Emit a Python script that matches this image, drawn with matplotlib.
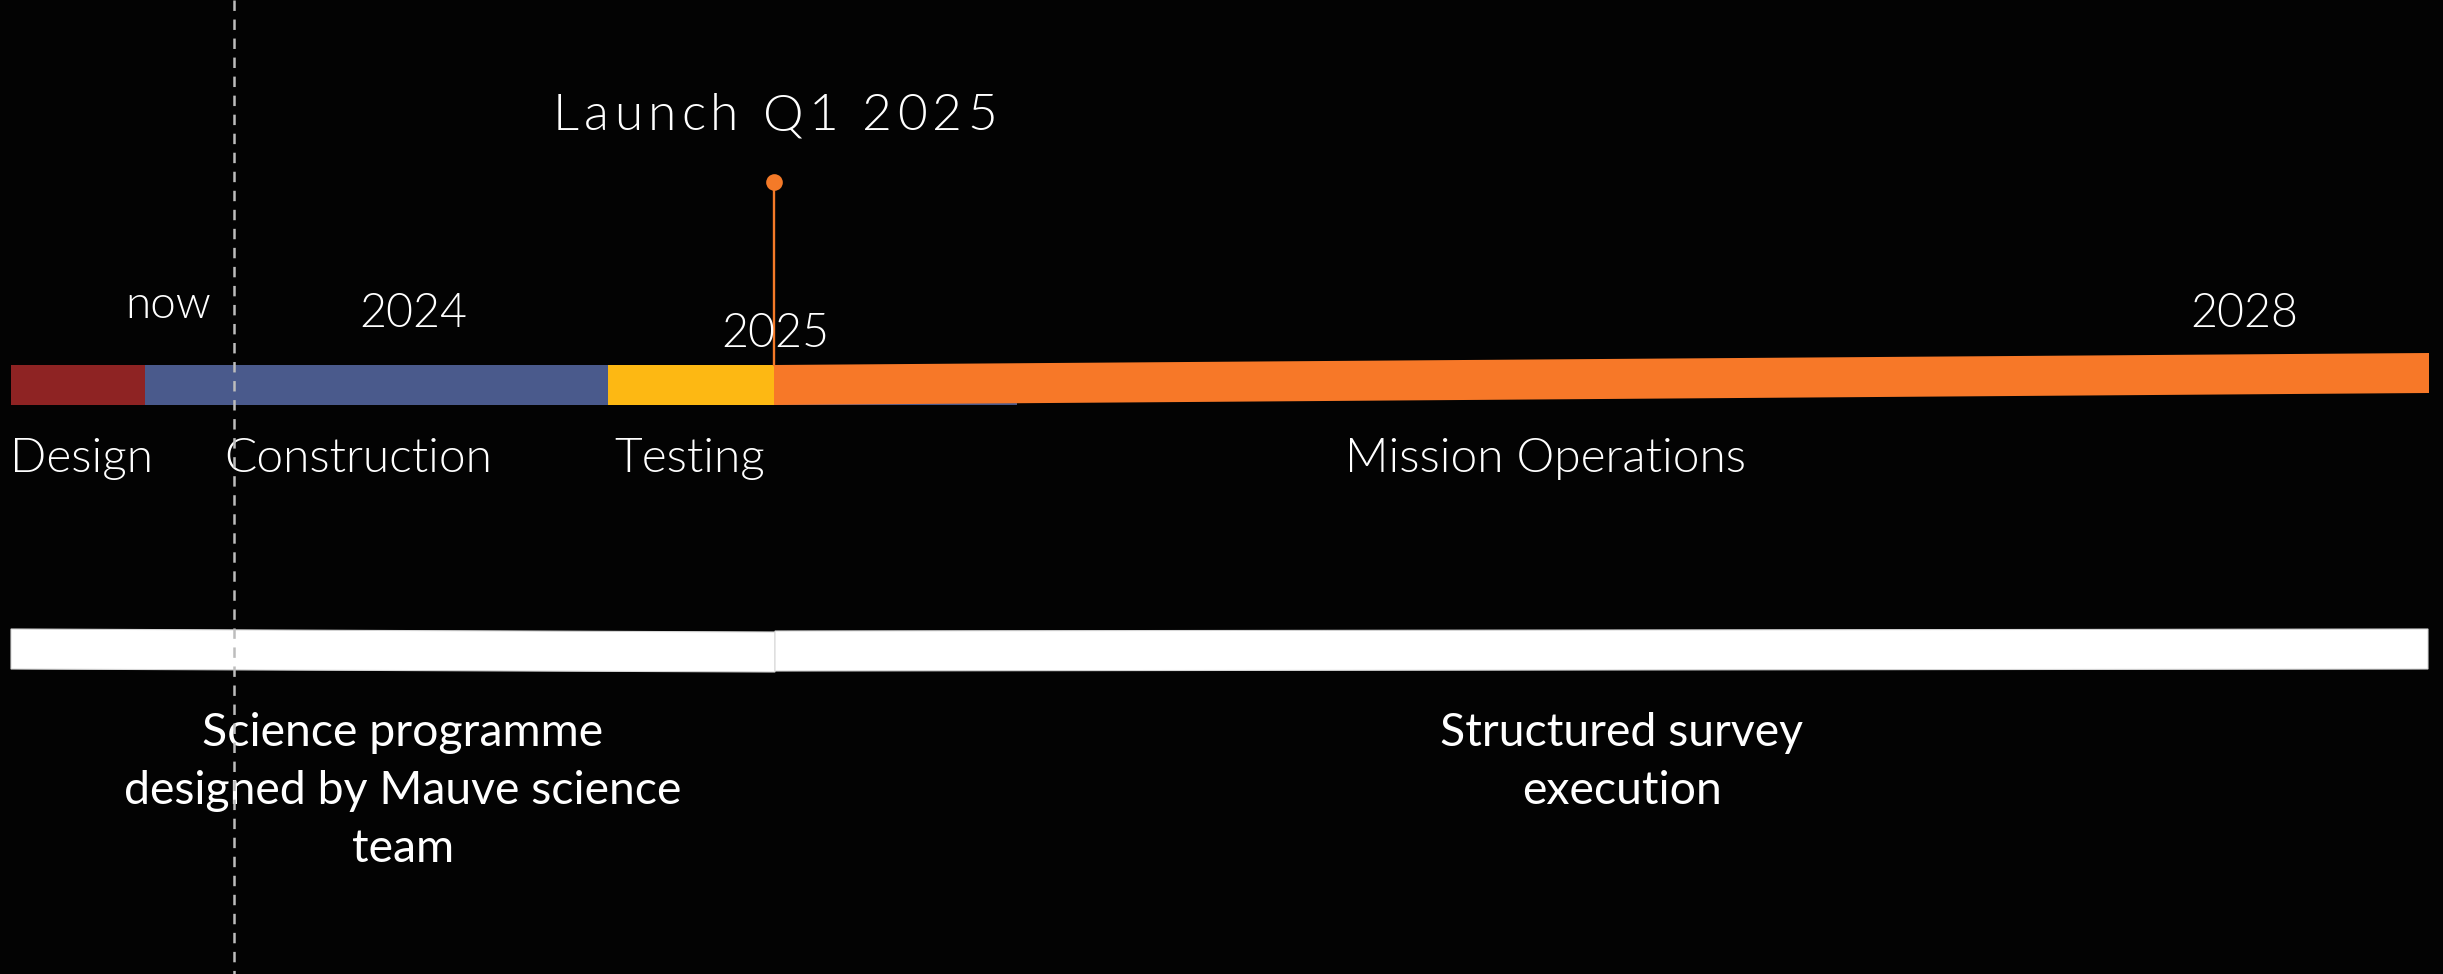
import matplotlib

matplotlib.use("Agg")
import matplotlib.pyplot as plt
from matplotlib.patches import Polygon

W, H = 2443, 974
BG = "#030303"
FONT = "Lato"
LIGHT = 300

# phase bars along the upper row, in timeline units (drawn back to front)
PHASES = ["Construction", "Design", "Testing", "Mission Operations"]
PHASE_START = [145, 11, 608, 774]
PHASE_END = [1017, 145, 774, 2429]
PHASE_RISE = [0, 0, 0, 12]
PHASE_COLORS = ["#4A5A8C", "#8E2323", "#FDB813", "#F77828"]

LABELS = ["Design", "Construction", "Testing", "Mission Operations"]
LABEL_X = [10, 224, 614, 1345]

YEARS = ["2024", "2025", "2028"]
YEAR_X = [413, 775, 2244]
YEAR_Y = [327, 347, 327]

NOW_X = 234
LAUNCH_X = 774
LAUNCH_LABEL = "Launch Q1 2025"

# lower row: science activity before / after launch
TRACKS = [["Science programme", "designed by Mauve science", "team"],
          ["Structured survey", "execution"]]
TRACK_START = [11, 775]
TRACK_END = [775, 2428]
TRACK_TOP = [629, 631]
TRACK_RISE = [-3, 2]
TRACK_TEXT_X = [403, 1622]

BAR_TOP, BAR_H = 365, 40
TRACK_H = 40


def slab(x0, x1, top, h, rise, **kw):
    pts = [(x0, top), (x1, top - rise), (x1, top - rise + h), (x0, top + h)]
    return Polygon(pts, closed=True, **kw)


def tracked_text(ax, renderer, s, xc, y, total_w, **kw):
    """Draw s centred on xc with extra letter spacing so it spans total_w."""
    def width(t):
        if not t:
            return 0.0
        probe = ax.text(0, 0, t + ".", **kw)
        dot = ax.text(0, 0, ".", **kw)
        w = probe.get_window_extent(renderer).width - dot.get_window_extent(renderer).width
        probe.remove(); dot.remove()
        return w
    natural = width(s)
    track = (total_w - natural) / (len(s) - 1)
    x0 = xc - total_w / 2
    for i, ch in enumerate(s):
        if ch != " ":
            ax.text(x0 + width(s[:i]) + i * track, y, ch, ha="left", **kw)


plt.rcParams["lines.scale_dashes"] = False
fig = plt.figure(figsize=(W / 100, H / 100), dpi=100, facecolor=BG)
ax = fig.add_axes([0, 0, 1, 1])
ax.set_facecolor(BG)
ax.set_xlim(0, W)
ax.set_ylim(H, 0)
ax.axis("off")

for x0, x1, rise, c in zip(PHASE_START, PHASE_END, PHASE_RISE, PHASE_COLORS):
    ax.add_patch(slab(x0, x1, BAR_TOP, BAR_H, rise, facecolor=c, edgecolor="none"))

for x0, x1, top, rise in zip(TRACK_START, TRACK_END, TRACK_TOP, TRACK_RISE):
    ax.add_patch(slab(x0, x1, top, TRACK_H, rise, facecolor="white",
                      edgecolor="#d8d8d8", linewidth=0.8))

# "now" marker
ax.plot([NOW_X, NOW_X], [0, H], color="#bdbdbd", lw=1.8, dashes=(7.5, 6.2), zorder=5)
ax.text(NOW_X - 66, 318, "now", color="white", fontsize=33, family=FONT,
        fontweight=LIGHT, ha="center", va="baseline")

# launch pin
ax.plot([LAUNCH_X, LAUNCH_X], [182, BAR_TOP], color="#F47A28", lw=1.7, zorder=4)
ax.plot(LAUNCH_X, 182, "o", color="#F47A28", ms=12, mec="none", zorder=4)

renderer = fig.canvas.get_renderer()
tracked_text(ax, renderer, LAUNCH_LABEL, LAUNCH_X + 1, 130, 444,
             color="white", fontsize=37, family=FONT, fontweight=LIGHT,
             va="baseline")

for yr, x, y in zip(YEARS, YEAR_X, YEAR_Y):
    ax.text(x, y, yr, color="white", fontsize=33.5, family=FONT, fontweight=LIGHT,
            ha="center", va="baseline", zorder=6)

for lab, x in zip(LABELS, LABEL_X):
    ax.text(x, 472, lab, color="white", fontsize=34.5, family=FONT, fontweight=LIGHT,
            ha="left", va="baseline")

for lines, x in zip(TRACKS, TRACK_TEXT_X):
    for i, line in enumerate(lines):
        ax.text(x, 746 + i * 58, line, color="white", fontsize=33.4, family=FONT,
                ha="center", va="baseline")

fig.savefig("out.png", dpi=100, facecolor=BG)
